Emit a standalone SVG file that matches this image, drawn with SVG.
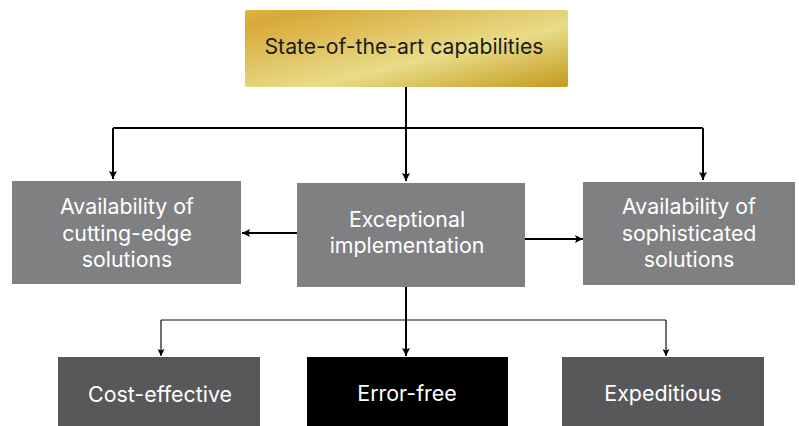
<svg xmlns="http://www.w3.org/2000/svg" width="799" height="426" viewBox="0 0 799 426">
<defs>
<linearGradient id="gold" x1="0" y1="0" x2="1" y2="1" gradientUnits="objectBoundingBox">
<stop offset="0" stop-color="#dcb53c"/>
<stop offset="0.1" stop-color="#d8a938"/>
<stop offset="0.6" stop-color="#e8dc88"/>
<stop offset="1" stop-color="#c39a1c"/>
</linearGradient>
<marker id="ah" viewBox="0 0 10 10" refX="10" refY="5" markerWidth="8" markerHeight="8" markerUnits="userSpaceOnUse" orient="auto">
<path d="M0,0 L10,5 L0,10 L2,5 Z" fill="#000"/>
</marker>
<marker id="ahs" viewBox="0 0 10 10" refX="10" refY="5" markerWidth="7" markerHeight="7" markerUnits="userSpaceOnUse" orient="auto">
<path d="M0,0 L10,5 L0,10 L2,5 Z" fill="#000"/>
</marker>
</defs>
<style>
text{font-family:Inter,"Liberation Sans",Arial,sans-serif;text-anchor:middle}
.w{fill:#ffffff;font-size:21.3px}
.b{fill:#ffffff;font-size:21.4px}
.thick{stroke:#000;stroke-width:2;fill:none}
.thin{stroke:#111;stroke-width:1.2;fill:none}
.mid{fill:#808083}
.dark{fill:#58585a}
</style>
<rect width="799" height="426" fill="#fff"/>
<g id="connectors">
<path class="thick" d="M406,87 V128"/>
<path class="thick" d="M113,128 H703"/>
<path class="thick" d="M113,128 V179" marker-end="url(#ah)"/>
<path class="thick" d="M406,128 V181" marker-end="url(#ah)"/>
<path class="thick" d="M703,128 V180" marker-end="url(#ah)"/>
<path class="thick" d="M297,233 H242" marker-end="url(#ah)"/>
<path class="thick" d="M525,239 H583" marker-end="url(#ah)"/>
<path class="thick" d="M406,287 V356" marker-end="url(#ah)"/>
<path class="thin" d="M161,320 H666"/>
<path class="thin" d="M161,320 V356" marker-end="url(#ahs)"/>
<path class="thin" d="M666,320 V356" marker-end="url(#ahs)"/>
</g>
<g id="top">
<rect x="245" y="10" width="323" height="77" rx="2" fill="url(#gold)"/>
<text x="404" y="54" font-size="21.2" fill="#1a1a1a">State-of-the-art capabilities</text>
</g>
<g id="left">
<rect class="mid" x="12" y="181" width="229" height="103"/>
<text class="w" x="127" y="214">Availability of</text>
<text class="w" x="127" y="241">cutting-edge</text>
<text class="w" x="127" y="267">solutions</text>
</g>
<g id="center">
<rect class="mid" x="297" y="183" width="228" height="104"/>
<text class="w" x="407" y="227">Exceptional</text>
<text class="w" x="407" y="253">implementation</text>
</g>
<g id="right">
<rect class="mid" x="583" y="182" width="212" height="103"/>
<text class="w" x="689" y="214">Availability of</text>
<text class="w" x="689" y="241">sophisticated</text>
<text class="w" x="689" y="267">solutions</text>
</g>
<g id="cost">
<rect class="dark" x="58" y="357" width="202" height="69"/>
<text class="b" x="160" y="402">Cost-effective</text>
</g>
<g id="error">
<rect x="307" y="357" width="201" height="69" fill="#000"/>
<text class="b" x="407" y="401">Error-free</text>
</g>
<g id="exped">
<rect class="dark" x="562" y="357" width="202" height="69"/>
<text class="b" x="663" y="401">Expeditious</text>
</g>
</svg>
